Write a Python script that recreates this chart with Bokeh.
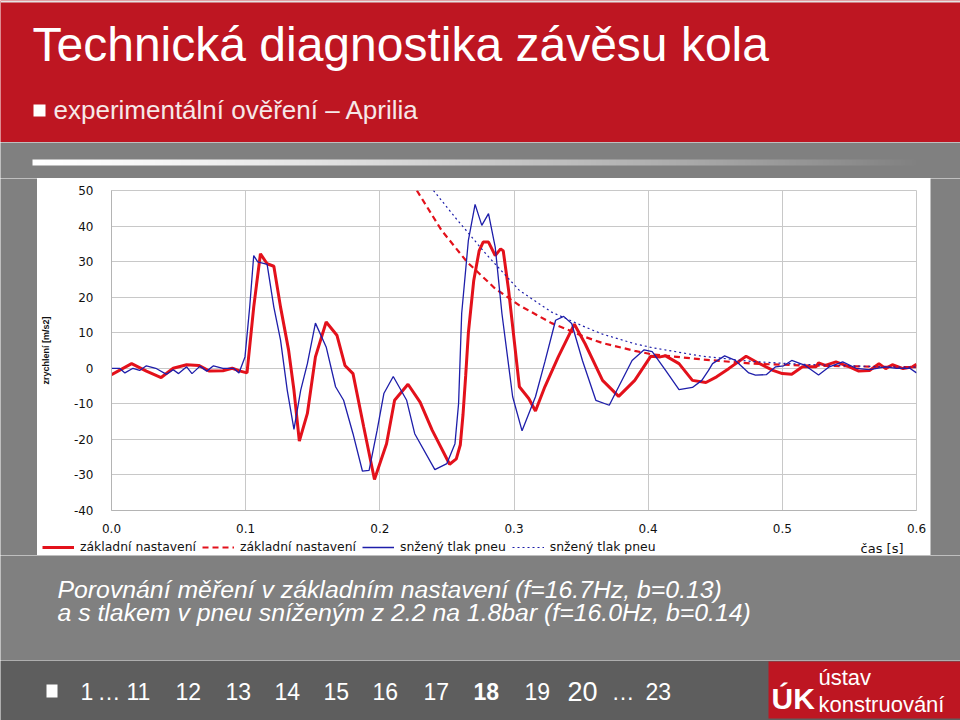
import numpy as np
from bokeh.plotting import figure
from bokeh.layouts import column, row
from bokeh.models import Range1d, FixedTicker, Legend, LegendItem
from bokeh.core.properties import value
from bokeh.embed import file_html
from bokeh.resources import INLINE

# ---------------- data ----------------
red_t = [0.000, 0.015, 0.026, 0.037, 0.046, 0.056, 0.065, 0.073, 0.083, 0.090,
         0.096, 0.101, 0.106, 0.111, 0.116, 0.121, 0.126, 0.132, 0.136, 0.140,
         0.146, 0.152, 0.160, 0.168, 0.174, 0.180, 0.188, 0.196, 0.205, 0.211,
         0.221, 0.230, 0.239, 0.252, 0.257, 0.260, 0.262, 0.264, 0.266, 0.270,
         0.274, 0.277, 0.281, 0.286, 0.290, 0.292, 0.296, 0.304, 0.311, 0.316,
         0.323, 0.333, 0.345, 0.353, 0.366, 0.378, 0.390, 0.402, 0.409, 0.413,
         0.423, 0.433, 0.443, 0.451, 0.460, 0.473, 0.482, 0.493, 0.500, 0.507,
         0.515, 0.525, 0.527, 0.532, 0.540, 0.550, 0.557, 0.565, 0.572, 0.577,
         0.582, 0.590, 0.597, 0.600]
red_a = [-1.8, 1.3, -0.8, -2.6, 0.0, 1.0, 0.8, -0.8, -0.7, 0.0,
         -0.8, -1.3, 17.2, 32.2, 29.4, 28.7, 17.2, 5.1, -6.2, -20.5,
         -12.7, 3.2, 13.0, 9.3, 0.8, -1.5, -16.5, -31.3, -21.2, -9.0,
         -4.5, -9.5, -17.4, -27.0, -25.5, -21.5, -13.0, -2.0, 10.0, 24.7,
         33.0, 35.5, 35.5, 31.7, 33.6, 33.0, 21.9, -5.2, -8.5, -12.0,
         -5.2, 3.2, 12.4, 6.9, -3.4, -7.9, -3.4, 3.4, 3.2, 3.5,
         1.3, -3.4, -4.0, -2.4, -0.1, 3.4, 1.5, -0.6, -1.5, -1.7,
         0.4, 0.4, 1.5, 0.8, 1.8, 0.4, -0.8, -0.6, 1.3, -0.1,
         1.0, -0.1, 0.4, 1.1]

blue_t = [0.000, 0.006, 0.010, 0.016, 0.021, 0.026, 0.033, 0.041, 0.046, 0.050,
          0.056, 0.060, 0.066, 0.071, 0.076, 0.083, 0.091, 0.095, 0.0995, 0.103,
          0.106, 0.109, 0.116, 0.121, 0.126, 0.131, 0.136, 0.141, 0.146, 0.152,
          0.160, 0.167, 0.173, 0.180, 0.187, 0.192, 0.198, 0.203, 0.210, 0.220,
          0.226, 0.241, 0.250, 0.256, 0.2587, 0.261, 0.266, 0.271, 0.276, 0.281,
          0.286, 0.291, 0.299, 0.306, 0.316, 0.323, 0.331, 0.337, 0.343, 0.351,
          0.361, 0.371, 0.378, 0.388, 0.397, 0.403, 0.413, 0.423, 0.433, 0.440,
          0.445, 0.448, 0.457, 0.465, 0.475, 0.480, 0.488, 0.495, 0.501, 0.507,
          0.517, 0.527, 0.535, 0.545, 0.555, 0.565, 0.577, 0.585, 0.595, 0.600]
blue_a = [0.0, 0.0, -1.3, 0.0, -0.6, 0.7, 0.0, -1.7, -0.4, -1.5,
          0.4, -1.5, 0.6, -0.8, 0.7, 0.0, 0.0, -1.3, 3.2, 17.2,
          31.7, 29.9, 29.2, 17.2, 7.9, -6.2, -17.2, -6.2, 1.3, 12.7,
          6.0, -5.2, -9.0, -18.4, -28.9, -28.7, -17.4, -7.1, -2.3, -9.0,
          -18.4, -28.5, -26.8, -21.2, -9.9, 15.4, 36.0, 46.1, 40.2, 43.5,
          34.1, 15.4, -8.0, -17.6, -8.0, 1.8, 13.5, 14.6, 12.6, 2.2,
          -9.0, -10.4, -5.2, 2.2, 5.2, 4.7, -0.6, -6.0, -5.4, -3.4,
          -0.6, 1.3, 3.5, 2.2, -1.3, -1.9, -1.8, 0.4, 0.7, 2.2,
          0.8, -1.9, 0.4, 1.8, 0.0, -0.4, 0.4, 0.0, 0.0, -1.3]

red_env_t = [0.2276, 0.246, 0.265, 0.286, 0.304, 0.328, 0.353, 0.366, 0.390, 0.403,
             0.440, 0.478, 0.515, 0.575, 0.600]
red_env_a = [50.0, 38.8, 29.9, 22.4, 17.7, 12.7, 8.8, 7.1, 4.9, 3.9,
             2.5, 1.3, 0.8, 0.4, 0.3]

blue_env_t = [0.240, 0.256, 0.279, 0.304, 0.328, 0.353, 0.366, 0.390, 0.403, 0.440,
              0.478, 0.515, 0.575, 0.600]
blue_env_a = [50.0, 42.5, 32.2, 21.9, 15.8, 11.6, 9.6, 6.9, 5.8, 3.4,
              1.9, 1.1, 0.4, 0.3]

series_labels = ["základní nastavení", "základní nastavení",
                 "snžený tlak pneu", "snžený tlak pneu"]

x_ticks = [0.0, 0.1, 0.2, 0.3, 0.4, 0.5, 0.6]
x_tick_labels = ["0.0", "0.1", "0.2", "0.3", "0.4", "0.5", "0.6"]
y_ticks = [-40, -30, -20, -10, 0, 10, 20, 30, 40, 50]
y_tick_labels = ["-40", "-30", "-20", "-10", "0", "10", "20", "30", "40", "50"]
x_title = "čas [s]"
y_title = "zrychlení [m/s2]"

title_text = "Technická diagnostika závěsu kola"
subtitle_text = "experimentální ověření – Aprilia"
caption_lines = ["Porovnání měření v základním nastavení (f=16.7Hz, b=0.13)",
                 "a s tlakem v pneu sníženým z 2.2 na 1.8bar (f=16.0Hz, b=0.14)"]
nav_labels = ["1", "…", "11", "12", "13", "14", "15", "16", "17", "18", "19", "20", "…", "23"]

# ---------------- styles ----------------
RED_BG = "#BE1622"
GRAY = "#808080"
DARK = "#5E5E5E"
LINE_RED = "#E3111B"
LINE_BLUE = "#1E1EAA"
GRID = "#C8C8C8"
SANS = value("Liberation Sans")
STYLES = [dict(line_color=LINE_RED, line_width=3),
          dict(line_color=LINE_RED, line_width=2.2, line_dash="6 4"),
          dict(line_color=LINE_BLUE, line_width=1.3),
          dict(line_color=LINE_BLUE, line_width=1.2, line_dash="2 3")]
SERIES = [(red_t, red_a), (red_env_t, red_env_a), (blue_t, blue_a), (blue_env_t, blue_env_a)]


def blank(w, h, x_left, y_top, y_bot, color, x_right=None):
    p = figure(width=w, height=h,
               x_range=Range1d(x_left, x_left + w if x_right is None else x_right),
               y_range=Range1d(y_bot, y_top),
               x_axis_type=None, y_axis_type=None, toolbar_location=None,
               output_backend="svg", min_border=0, outline_line_color=None)
    p.background_fill_color = color
    p.border_fill_color = color
    return p


# ---------------- header ----------------
header = blank(960, 142, 0, 0, 142, RED_BG)
header.quad(left=[0], right=[960], top=[0], bottom=[2], color="#E6E6E6", line_color=None)
header.text(x=[32], y=[44], text=[title_text], text_font=SANS, text_font_size="48px",
            text_color="white", text_baseline="alphabetic")
header.quad(left=[33], right=[45], top=[104], bottom=[116], color="white", line_color=None)
header.text(x=[53], y=[109], text=[subtitle_text], text_font=SANS, text_font_size="26px",
            text_color="#F6E8E8", text_baseline="alphabetic")

# ---------------- gray strip with fading bar ----------------
strip = blank(960, 36, 0, 142, 178, GRAY)
n = 400
fade = np.clip(1.0 - np.linspace(0, 1, n) ** 1.3, 0, 1)
img = np.zeros((1, n), dtype=np.uint32)
view = img.view(dtype=np.uint8).reshape((1, n, 4))
view[0, :, 0] = 255
view[0, :, 1] = 255
view[0, :, 2] = 255
view[0, :, 3] = (fade * 255).astype(np.uint8)
strip.image_rgba(image=[img], x=32, y=159, dw=891, dh=6)

# ---------------- chart ----------------
p = figure(width=893, height=359, x_range=Range1d(0, 0.6), y_range=Range1d(-40, 50),
           toolbar_location=None, output_backend="svg",
           min_border_left=73, min_border_right=14, min_border_top=12, min_border_bottom=27)
p.background_fill_color = "white"
p.border_fill_color = "white"
p.outline_line_color = GRID

p.xaxis.ticker = FixedTicker(ticks=x_ticks)
p.xaxis.major_label_overrides = dict(zip(x_ticks, x_tick_labels))
p.yaxis.ticker = FixedTicker(ticks=y_ticks)
p.yaxis.major_label_overrides = dict(zip(y_ticks, y_tick_labels))
for ax in (p.xaxis, p.yaxis):
    ax.axis_line_color = "#B4B4B4"
    ax.major_tick_line_color = None
    ax.minor_tick_line_color = None
    ax.major_label_text_font = "DejaVu Sans"
    ax.major_label_text_font_size = "12px"
    ax.major_label_text_color = "#111111"
p.xaxis.major_label_standoff = 7
p.yaxis.major_label_standoff = 12
p.yaxis.axis_label = y_title
p.yaxis.axis_label_text_font = "Liberation Sans"
p.yaxis.axis_label_text_font_size = "9px"
p.yaxis.axis_label_text_font_style = "bold"
p.yaxis.axis_label_text_color = "#111111"
p.yaxis.axis_label_standoff = 20
p.grid.grid_line_color = GRID
p.grid.grid_line_width = 1

for (xs, ys), st in zip(SERIES, STYLES):
    p.line(xs, ys, **st)

# ---------------- legend strip under the chart (white panel continues) ----------------
# The strip uses page-pixel ranges; the series fall outside its frame, so only the
# legend samples (same data, same styles) are visible.
probe = figure(width=10, height=10)
can_unalign = "frame_align" in probe.properties()
frame_left = 37 if can_unalign else 110
frame_right = 930 if can_unalign else 916
leg = blank(893, 18, frame_left, 537, 555, "white", x_right=frame_right)
if can_unalign:
    leg.frame_align = False
proxies = [leg.line(xs, ys, **st) for (xs, ys), st in zip(SERIES, STYLES)]
legend = Legend(items=[LegendItem(label=lab, renderers=[r]) for lab, r in zip(series_labels, proxies)],
                orientation="horizontal", location=(42 - frame_left, 1),
                glyph_width=32, glyph_height=12, label_standoff=6, spacing=6,
                padding=0, margin=0, border_line_color=None, background_fill_alpha=0,
                label_text_font="DejaVu Sans", label_text_font_size="12.4px",
                label_text_color="#111111", label_height=12)
leg.add_layout(legend)
leg.text(x=[903], y=[548], text=[x_title], text_align="right", text_baseline="middle",
         text_font=value("DejaVu Sans"), text_font_size="13px", text_color="#111111")

chart_col = column(p, leg)
left_pad = blank(37, 377, 0, 178, 555, GRAY)
right_pad = blank(30, 377, 930, 178, 555, GRAY)

# ---------------- caption ----------------
cap = blank(960, 105, 0, 555, 660, GRAY)
cap.text(x=[57, 57], y=[589, 612], text=caption_lines, text_font=SANS, text_font_size="24.8px",
         text_font_style="italic", text_color="white", text_baseline="alphabetic")

# ---------------- footer ----------------
foot = blank(960, 60, 0, 660, 720, DARK)
foot.quad(left=[46], right=[57], top=[684], bottom=[697], color="white", line_color=None)
nav_x = [80, 97, 126, 175, 225, 274, 323, 372, 423, 473, 524, 567, 611, 645]
nav_size = ["23px"] * len(nav_labels)
nav_size[11] = "27px"
nav_style = ["normal"] * len(nav_labels)
nav_style[9] = "bold"
for lab, xx, sz, st in zip(nav_labels, nav_x, nav_size, nav_style):
    foot.text(x=[xx], y=[691], text=[lab], text_font=SANS, text_font_size=sz,
              text_font_style=st, text_color="white", text_baseline="alphabetic")
foot.quad(left=[768], right=[960], top=[661], bottom=[718], color=RED_BG, line_color=None)
foot.text(x=[771], y=[698], text=["ÚK"], text_font=SANS, text_font_size="30px",
          text_font_style="bold", text_color="white", text_baseline="alphabetic")
foot.text(x=[818, 818], y=[677, 704], text=["ústav", "konstruování"], text_font=SANS,
          text_font_size="22px", text_color="white", text_baseline="alphabetic")

page = column(header, strip, row(left_pad, chart_col, right_pad), cap, foot)

open("out.html", "w").write(file_html(page, INLINE))
